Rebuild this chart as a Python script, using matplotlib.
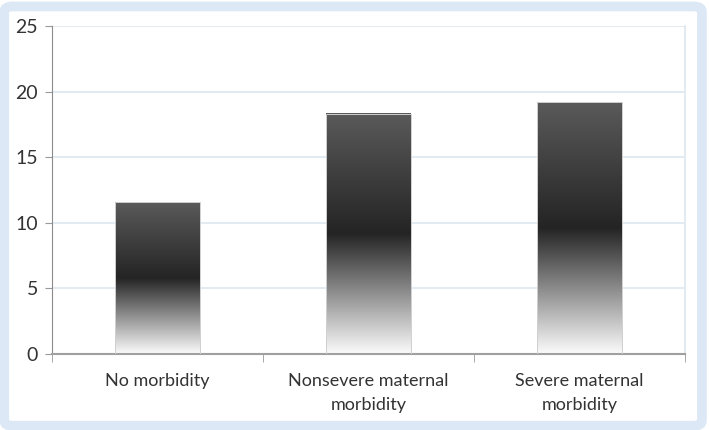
import numpy as np
import matplotlib
matplotlib.use("Agg")
import matplotlib.pyplot as plt
from matplotlib.patches import FancyBboxPatch
from matplotlib.colors import LinearSegmentedColormap

categories = ["No morbidity", "Nonsevere maternal\nmorbidity", "Severe maternal\nmorbidity"]
values = [11.55, 18.3, 19.2]
yticks = [0, 5, 10, 15, 20, 25]

plt.rcParams['font.family'] = ['Lato', 'DejaVu Sans']

fig = plt.figure(figsize=(7.09, 4.30), dpi=100, facecolor="white")
# outer light blue rounded frame
frame = FancyBboxPatch((0.006, 0.01), 0.984, 0.975, boxstyle="round,pad=0,rounding_size=0.012",
                       transform=fig.transFigure, facecolor="none", edgecolor="#dce8f5",
                       linewidth=7, zorder=-5)
fig.patches.append(frame)

ax = fig.add_axes([52/709, 1 - 354/430, (685-52)/709, (354-26)/430])
ax.set_facecolor("none")

x = np.arange(len(categories))
bars = ax.bar(x, values, width=0.4, color="none", edgecolor="#d0d0d0", linewidth=0.7, zorder=3)

# vertical gradient: white at bottom, near black in middle, dark gray at top
cmap = LinearSegmentedColormap.from_list("g", [(0.0, "#fbfbfb"), (0.5, "#242424"), (1.0, "#5a5a5a")])
grad = np.linspace(0, 1, 256).reshape(-1, 1)
for b in bars:
    x0, w, h = b.get_x(), b.get_width(), b.get_height()
    ax.imshow(grad, cmap=cmap, aspect="auto", origin="lower",
              extent=[x0, x0 + w, 0, h], zorder=2)

ax.set_xlim(-0.5, len(categories) - 0.5)
ax.set_ylim(0, 25)
ax.set_yticks(yticks)
ax.set_yticklabels([str(t) for t in yticks], fontsize=14, color="#333333")
ax.yaxis.grid(True, color="#dde7f0", lw=1.2, zorder=0)
ax.set_axisbelow(True)

ax.set_xticks(x)
ax.set_xticklabels(categories, fontsize=13, color="#333333", linespacing=1.55)
ax.tick_params(axis="x", length=0, pad=14)
ax.set_xticks(np.arange(-0.5, len(categories)), minor=True)
ax.tick_params(axis="x", which="minor", length=6, color="#999999")
ax.tick_params(axis="y", length=5, color="#999999", pad=5)

ax.spines["top"].set_visible(False)
ax.spines["right"].set_color("#dde7f0")
ax.spines["right"].set_linewidth(1.2)
ax.spines["left"].set_color("#8c8c8c")
ax.spines["bottom"].set_color("#a0a0a0")
ax.spines["bottom"].set_linewidth(1.5)

fig.savefig("out.png", dpi=100)
